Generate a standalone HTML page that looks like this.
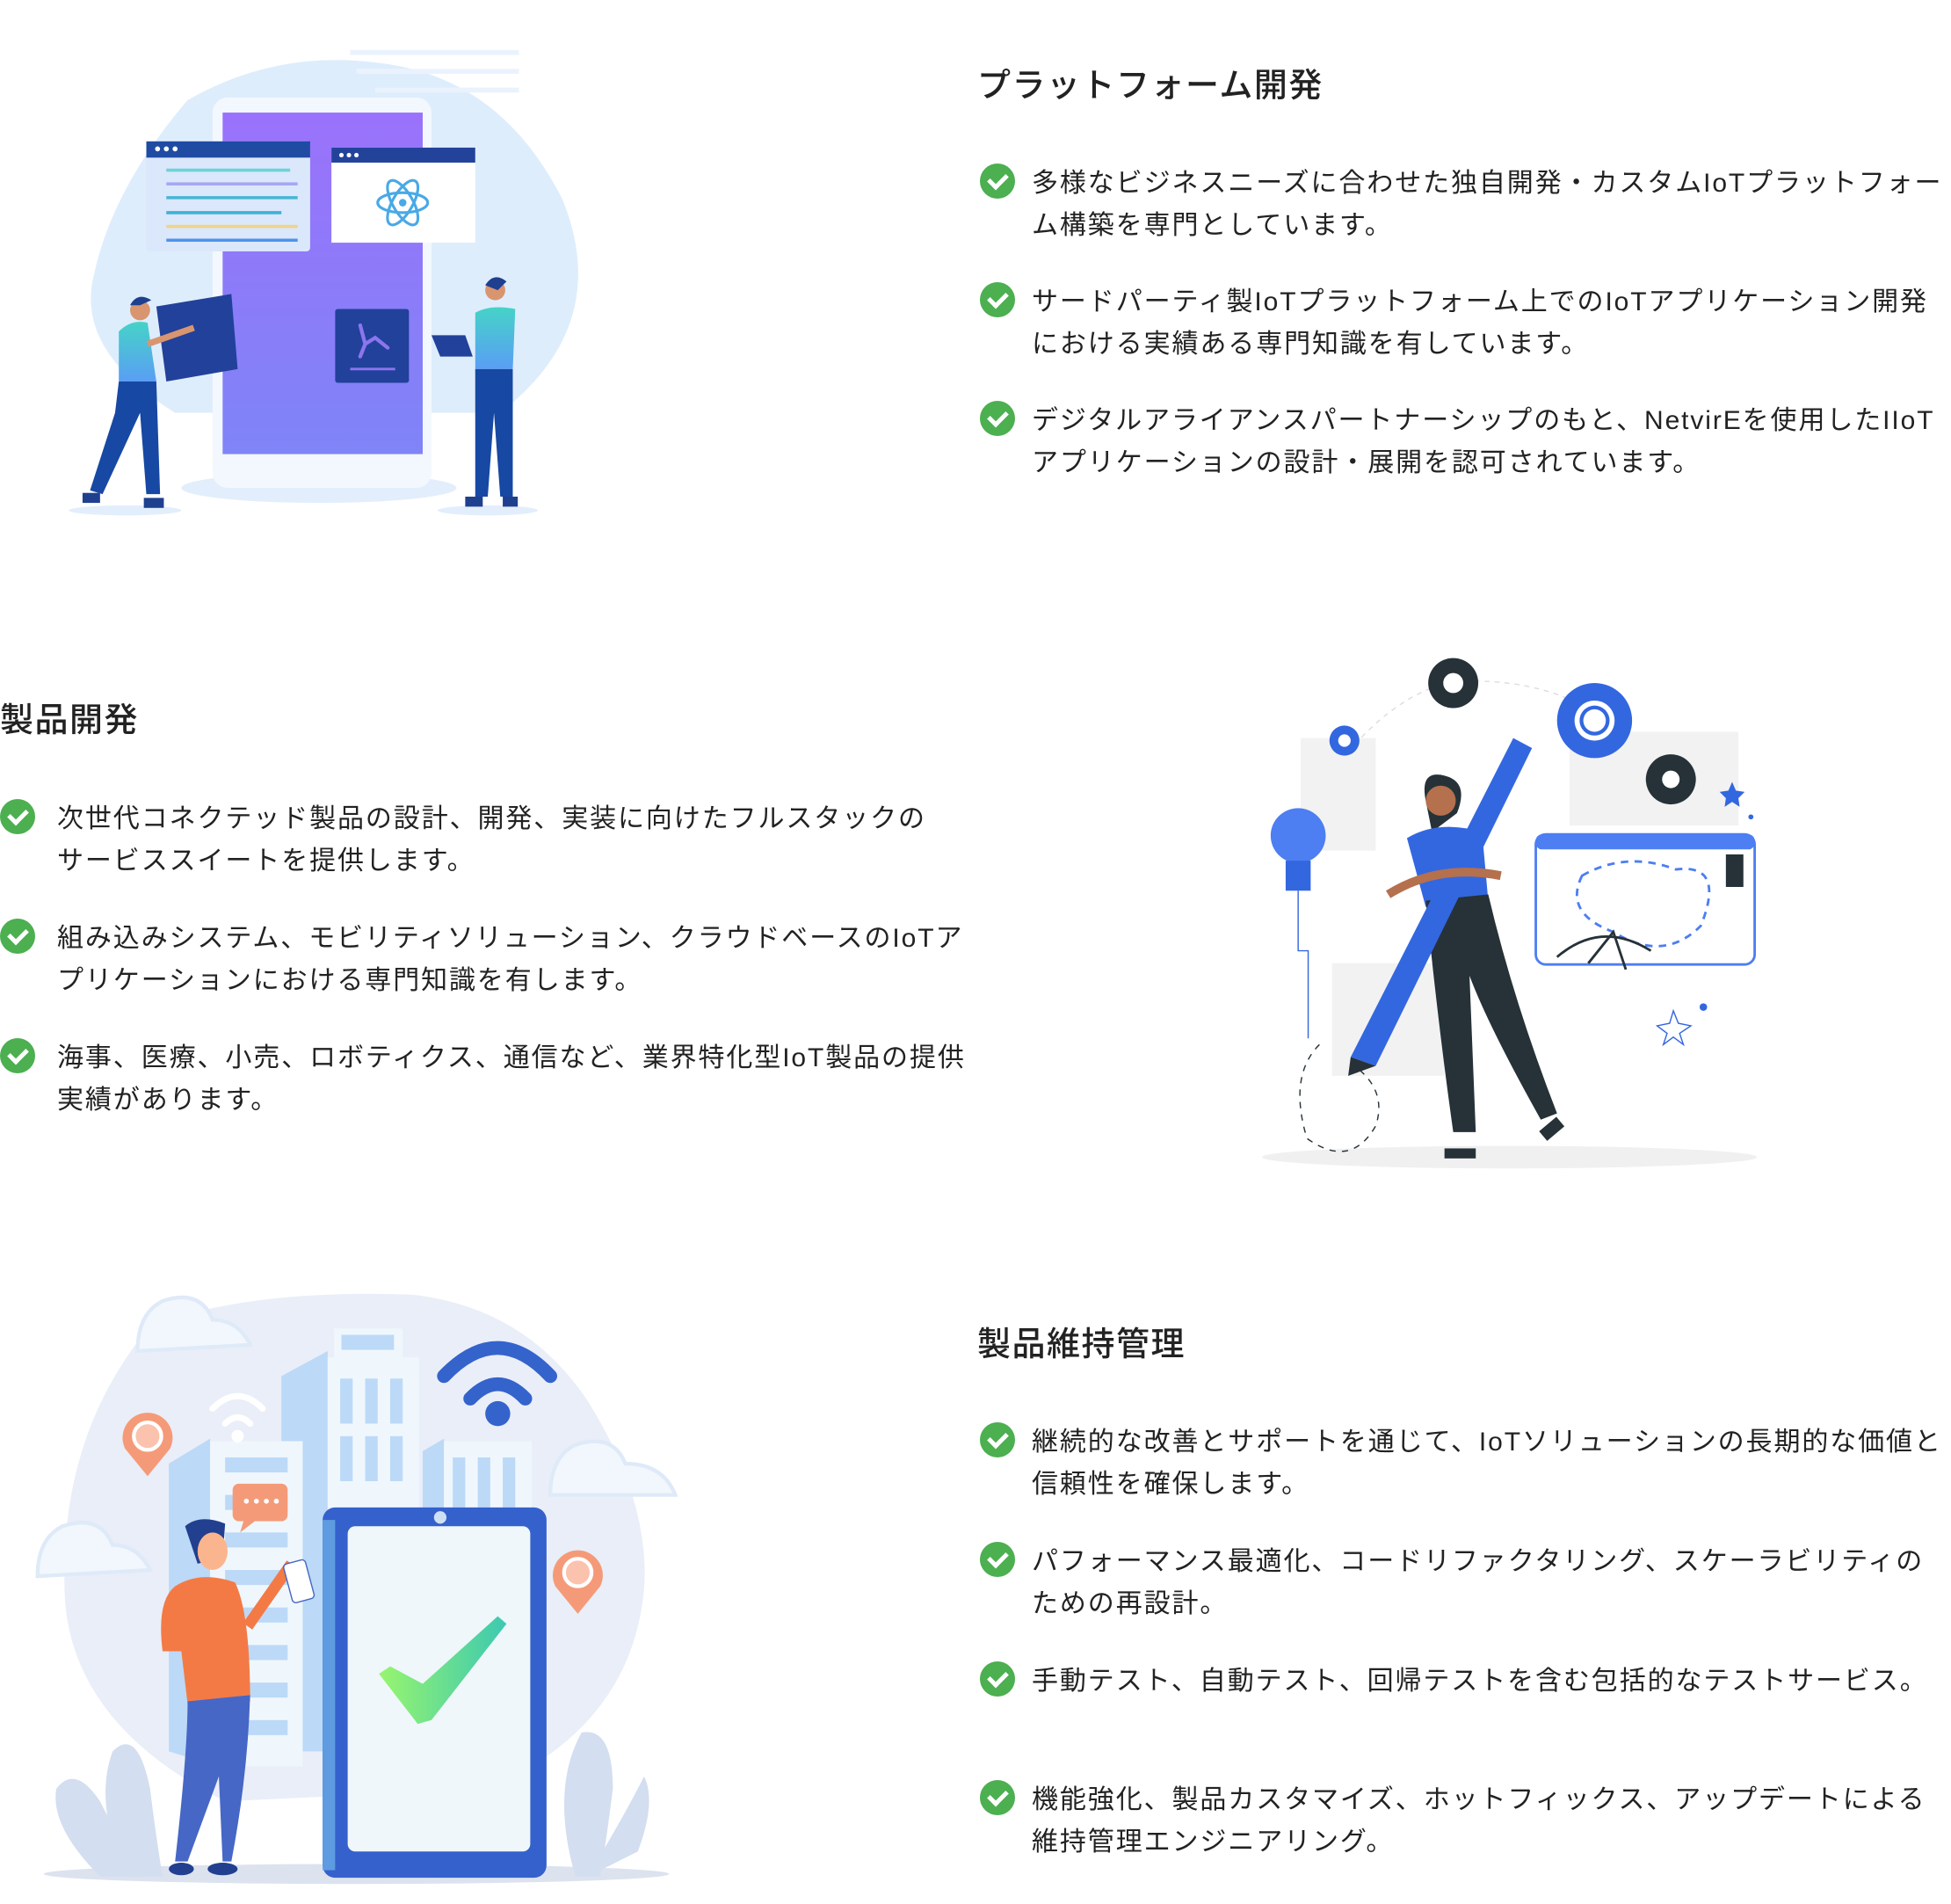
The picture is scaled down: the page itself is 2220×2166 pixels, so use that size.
<!DOCTYPE html>
<html><head><meta charset="utf-8"><style>
html,body{margin:0;padding:0;background:#fff;}
body{width:2220px;height:2166px;position:relative;overflow:hidden;font-family:"Liberation Sans","Noto Sans CJK JP",sans-serif;color:#222;}
svg.bg{position:absolute;left:0;top:0;}
.t{position:absolute;font-size:38px;line-height:48px;color:#222;font-weight:500;white-space:nowrap;letter-spacing:1.5px;}
.b{position:absolute;font-size:30px;line-height:48px;color:#222;letter-spacing:1.9px;}
.c{position:absolute;width:40px;height:40px;border-radius:50%;background:#4caf50;}
.c:after{content:"";position:absolute;width:16px;height:9px;border-left:5px solid #fff;border-bottom:5px solid #fff;transform:rotate(-45deg);transform-origin:center;top:11px;left:10px;}
</style></head><body>
<svg class="bg" width="2220" height="2166" viewBox="0 0 1560 1522" preserveAspectRatio="none">
<!-- Illustration 1 -->
<path d="M150 80 Q220 40 300 50 Q400 60 450 160 Q490 260 400 330 L140 330 Q60 280 75 220 Q90 150 150 80Z" fill="#deedfc"/>
<g fill="#eaf3fd"><rect x="280" y="40" width="135" height="4"/><rect x="285" y="55" width="130" height="4"/><rect x="300" y="70" width="115" height="4"/></g>
<ellipse cx="255" cy="390" rx="110" ry="12" fill="#e3eefc"/>
<rect x="170" y="78" width="175" height="312" rx="12" fill="#f3f8fe"/>
<defs><linearGradient id="pg" x1="0" y1="0" x2="0" y2="1"><stop offset="0" stop-color="#9a72fb"/><stop offset="1" stop-color="#7f84f7"/></linearGradient>
<linearGradient id="sh" x1="0" y1="0" x2="0" y2="1"><stop offset="0" stop-color="#45d3c7"/><stop offset="1" stop-color="#5a9ef5"/></linearGradient>
<linearGradient id="ck" x1="0" y1="0" x2="1" y2="0"><stop offset="0" stop-color="#98f56f"/><stop offset="1" stop-color="#3cc9b1"/></linearGradient></defs>
<rect x="178" y="90" width="160" height="273" fill="url(#pg)"/>
<rect x="117" y="113" width="131" height="88" rx="3" fill="#dbe7fb"/>
<rect x="117" y="113" width="131" height="13" fill="#1f4ba3"/>
<g fill="#fff"><circle cx="126" cy="119" r="2"/><circle cx="133" cy="119" r="2"/><circle cx="140" cy="119" r="2"/></g>
<g stroke-width="2.5"><line x1="133" y1="136" x2="232" y2="136" stroke="#6dd3d5"/><line x1="133" y1="147" x2="238" y2="147" stroke="#a7a8f3"/><line x1="133" y1="158" x2="238" y2="158" stroke="#46b6d4"/><line x1="133" y1="170" x2="225" y2="170" stroke="#3eb1d6"/><line x1="133" y1="181" x2="238" y2="181" stroke="#eed48a"/><line x1="133" y1="192" x2="238" y2="192" stroke="#4d93e8"/></g>
<rect x="265" y="118" width="115" height="76" fill="#fff"/>
<rect x="265" y="118" width="115" height="12" fill="#23439b"/>
<g fill="#fff"><circle cx="273" cy="124" r="1.8"/><circle cx="279" cy="124" r="1.8"/><circle cx="285" cy="124" r="1.8"/></g>
<g fill="none" stroke="#49a9e6" stroke-width="2.2"><ellipse cx="322" cy="162" rx="20" ry="8"/><ellipse cx="322" cy="162" rx="20" ry="8" transform="rotate(60 322 162)"/><ellipse cx="322" cy="162" rx="20" ry="8" transform="rotate(-60 322 162)"/></g>
<circle cx="322" cy="162" r="3" fill="#49a9e6"/>
<rect x="268" y="247" width="59" height="59" rx="2" fill="#22419a"/>
<line x1="280" y1="295" x2="316" y2="295" stroke="#8c75ee" stroke-width="2"/>
<g stroke="#8c75ee" stroke-width="3" fill="none" stroke-linecap="round"><path d="M288 260 L292 275 L300 270 L310 278 M292 275 L288 285"/></g>
<ellipse cx="100" cy="408" rx="45" ry="4" fill="#e3eefc"/>
<ellipse cx="390" cy="408" rx="40" ry="4" fill="#e3eefc"/>
<polygon points="125,245 185,235 190,295 133,305" fill="#22419a"/>
<path d="M95 265 Q105 255 118 258 L125 305 L95 305Z" fill="url(#sh)"/>
<circle cx="112" cy="248" r="8" fill="#d9956f"/>
<path d="M104 244 Q110 233 121 240 L112 244Z" fill="#1f3f8f"/>
<path d="M95 305 L125 305 L128 395 L117 395 L112 330 L82 395 L72 392 L92 330Z" fill="#1748a3"/>
<path d="M118 275 L155 262" stroke="#d9956f" stroke-width="5"/>
<rect x="66" y="394" width="14" height="8" fill="#1f3f8f"/><rect x="115" y="398" width="16" height="8" fill="#1f3f8f"/>
<circle cx="396" cy="232" r="8" fill="#d9956f"/>
<path d="M388 228 Q395 217 405 225 L398 232Z" fill="#1f3f8f"/>
<path d="M380 250 Q392 243 412 247 L410 295 L380 295Z" fill="url(#sh)"/>
<path d="M380 295 L410 295 L410 397 L400 397 L395 330 L390 397 L380 397Z" fill="#1748a3"/>
<polygon points="345,268 372,268 378,285 352,285" fill="#22419a"/>
<rect x="372" y="397" width="14" height="8" fill="#1f3f8f"/><rect x="402" y="397" width="12" height="8" fill="#1f3f8f"/>
<!-- Illustration 2 -->
<ellipse cx="1207" cy="925" rx="198" ry="9" fill="#f0f0f0"/>
<path d="M1050 640 Q1100 560 1160 545 Q1240 540 1290 580" fill="none" stroke="#ddd" stroke-dasharray="4 4"/>
<rect x="1040" y="590" width="60" height="90" fill="#f2f2f2"/>
<rect x="1255" y="585" width="135" height="75" fill="#f2f2f2"/>
<rect x="1065" y="770" width="90" height="90" fill="#f2f2f2"/>
<circle cx="1162" cy="546" r="20" fill="#263238"/><circle cx="1162" cy="546" r="9" fill="#fff" stroke="#263238" stroke-width="2"/>
<circle cx="1275" cy="576" r="30" fill="#3367e0"/><circle cx="1275" cy="576" r="16" fill="#fff"/><circle cx="1275" cy="576" r="12" fill="#3367e0"/><circle cx="1275" cy="576" r="9" fill="#fff"/>
<circle cx="1336" cy="623" r="20" fill="#263238"/><circle cx="1336" cy="623" r="7" fill="#fff"/>
<circle cx="1075" cy="592" r="12" fill="#3367e0"/><circle cx="1075" cy="592" r="5" fill="#fff"/>
<circle cx="1038" cy="668" r="22" fill="#4d7ef2"/><rect x="1028" y="688" width="20" height="24" fill="#3367e0"/>
<path d="M1038 712 L1038 760 L1046 760 L1046 830" stroke="#3367e0" fill="none"/>
<path d="M1055 835 Q1030 860 1045 910 Q1080 935 1100 900 Q1110 870 1080 850" fill="none" stroke="#263238" stroke-dasharray="5 5"/>
<rect x="1228" y="667" width="175" height="104" rx="8" fill="#fff" stroke="#4d7ef2" stroke-width="2"/>
<rect x="1228" y="667" width="175" height="12" rx="5" fill="#4d7ef2"/>
<path d="M1265 700 Q1300 680 1340 695 Q1380 690 1360 740 Q1330 770 1290 745 Q1250 730 1265 700Z" fill="none" stroke="#4d7ef2" stroke-dasharray="6 5" stroke-width="2"/>
<rect x="1380" y="683" width="14" height="26" fill="#263238"/>
<path d="M1245 765 Q1280 735 1320 760 M1270 770 L1290 745 L1300 775" fill="none" stroke="#263238" stroke-width="2"/>
<path d="M1338 808 L1342 818 L1352 820 L1343 826 L1346 835 L1338 829 L1330 835 L1333 826 L1325 820 L1335 818Z" fill="none" stroke="#3367e0"/>
<path d="M1140 640 Q1135 615 1155 620 Q1175 625 1165 650 L1145 665Z" fill="#263238"/>
<circle cx="1152" cy="640" r="12" fill="#b5704e"/>
<path d="M1125 670 Q1150 655 1185 665 L1190 720 L1140 725Z" fill="#3367e0"/>
<path d="M1140 720 L1190 715 Q1210 800 1245 890 L1232 895 Q1190 820 1175 780 L1180 905 L1162 905 Q1150 820 1140 720Z" fill="#263238"/>
<polygon points="1080,845 1210,590 1225,598 1100,852" fill="#3367e0"/>
<polygon points="1080,845 1100,852 1078,860" fill="#263238"/>
<path d="M1110 715 Q1150 690 1200 700" stroke="#b5704e" stroke-width="7" fill="none"/>
<rect x="1155" y="918" width="25" height="8" fill="#263238"/><rect x="1232" y="898" width="18" height="10" fill="#263238" transform="rotate(-40 1240 903)"/>
<g fill="#3367e0"><path d="M1385 625 l3 7 7 1 -5 5 1 7 -6 -4 -6 4 1 -7 -5 -5 7 -1z"/><circle cx="1400" cy="653" r="2"/><circle cx="1362" cy="805" r="3"/></g>
<!-- Illustration 3 -->
<path d="M120 1060 Q200 1030 330 1035 Q420 1045 470 1120 Q520 1200 515 1270 Q505 1380 390 1430 L180 1440 Q60 1380 52 1280 Q45 1150 120 1060Z" fill="#e9eef8"/>
<ellipse cx="285" cy="1498" rx="250" ry="8" fill="#dce3ef"/>
<g fill="#bcd9f7"><polygon points="135,1170 168,1150 168,1410 135,1400"/><polygon points="225,1100 262,1080 262,1400 225,1400"/><polygon points="338,1160 355,1150 355,1220 338,1220"/></g>
<rect x="168" y="1152" width="74" height="260" fill="#eff7fd"/>
<g fill="#bcd9f7"><rect x="180" y="1165" width="50" height="12"/><rect x="180" y="1195" width="50" height="12"/><rect x="180" y="1225" width="50" height="12"/><rect x="180" y="1255" width="50" height="12"/><rect x="180" y="1285" width="50" height="12"/><rect x="180" y="1315" width="50" height="12"/><rect x="180" y="1345" width="50" height="12"/><rect x="180" y="1375" width="50" height="12"/></g>
<rect x="262" y="1085" width="73" height="120" fill="#eff7fd"/>
<rect x="267" y="1062" width="55" height="25" fill="#eff7fd"/><rect x="273" y="1067" width="42" height="12" fill="#bcd9f7"/>
<g fill="#bcd9f7"><rect x="272" y="1102" width="10" height="36"/><rect x="292" y="1102" width="10" height="36"/><rect x="312" y="1102" width="10" height="36"/><rect x="272" y="1148" width="10" height="36"/><rect x="292" y="1148" width="10" height="36"/><rect x="312" y="1148" width="10" height="36"/></g>
<rect x="355" y="1152" width="70" height="55" fill="#eff7fd"/>
<g fill="#bcd9f7"><rect x="362" y="1165" width="10" height="40"/><rect x="382" y="1165" width="10" height="40"/><rect x="402" y="1165" width="10" height="40"/></g>
<g fill="#f1f7fd" stroke="#dfeaf8" stroke-width="3"><path d="M110 1080 Q110 1050 130 1040 Q160 1030 170 1055 Q190 1055 200 1075 L110 1080Z"/><path d="M30 1260 Q30 1230 50 1220 Q80 1210 90 1235 Q110 1235 120 1255 L30 1260Z"/><path d="M440 1195 Q440 1165 460 1155 Q490 1145 500 1170 Q530 1170 540 1195Z"/></g>
<g fill="none" stroke="#fff" stroke-width="5" stroke-linecap="round"><path d="M170 1126 Q190 1106 210 1126"/><path d="M180 1138 Q190 1128 200 1138"/></g><circle cx="190" cy="1148" r="5" fill="#fff"/>
<g fill="none" stroke="#3463cc" stroke-width="11" stroke-linecap="round"><path d="M355 1100 Q398 1055 440 1100"/><path d="M376 1118 Q398 1095 420 1118"/></g><circle cx="398" cy="1130" r="10" fill="#3463cc"/>
<g fill="#f59a78"><path d="M118 1180 L100 1158 A20 20 0 1 1 136 1158Z"/><path d="M462 1290 L444 1268 A20 20 0 1 1 480 1268Z"/></g>
<circle cx="118" cy="1148" r="11" fill="#fbc2ad" stroke="#fff" stroke-width="3"/><circle cx="462" cy="1257" r="11" fill="#fbc2ad" stroke="#fff" stroke-width="3"/>
<rect x="186" y="1186" width="44" height="30" rx="5" fill="#f59a78"/><polygon points="195,1215 205,1215 192,1225" fill="#f59a78"/>
<g fill="#fff"><circle cx="197" cy="1200" r="2"/><circle cx="205" cy="1200" r="2"/><circle cx="213" cy="1200" r="2"/><circle cx="221" cy="1200" r="2"/></g>
<g fill="#d3def0"><path d="M80 1500 Q40 1460 45 1430 Q60 1410 80 1440 Q95 1470 115 1500Z"/><path d="M100 1500 Q75 1440 90 1400 Q110 1380 120 1430 Q125 1470 130 1500Z"/><path d="M460 1500 Q440 1430 465 1385 Q490 1380 490 1430 Q485 1470 480 1500Z"/><path d="M470 1500 Q500 1450 515 1420 Q525 1440 510 1480Z"/></g>
<rect x="258" y="1205" width="179" height="296" rx="10" fill="#3461cc"/>
<rect x="258" y="1215" width="10" height="280" fill="#5e9be0"/>
<rect x="278" y="1220" width="146" height="260" rx="6" fill="#eff7fa"/>
<circle cx="352" cy="1213" r="5" fill="#cfe0f5"/>
<path d="M303 1338 L312 1332 L338 1346 L398 1292 L405 1298 L345 1375 L334 1378Z" fill="url(#ck)"/>
<path d="M148 1220 Q160 1210 180 1218 L178 1245 L158 1250Z" fill="#22408f"/>
<ellipse cx="170" cy="1240" rx="12" ry="15" fill="#fbb58e"/>
<path d="M140 1268 Q160 1255 188 1265 Q200 1290 200 1360 L150 1362 L145 1320 L130 1320 Q125 1280 140 1268Z" fill="#f47a45"/>
<path d="M198 1300 L233 1250" stroke="#f47a45" stroke-width="9"/>
<path d="M150 1360 L200 1355 Q198 1420 185 1488 L178 1488 L175 1420 L150 1488 L140 1488 Q150 1400 150 1360Z" fill="#4667c6"/>
<rect x="230" y="1248" width="18" height="32" rx="3" fill="#fff" stroke="#4667c6" transform="rotate(-15 239 1264)"/>
<ellipse cx="145" cy="1494" rx="10" ry="5" fill="#22408f"/><ellipse cx="178" cy="1494" rx="12" ry="5" fill="#22408f"/>
</svg>

<div class="t" style="left:1112px;top:74px;">プラットフォーム開発</div>
<div class="c" style="left:1115px;top:186px;"></div>
<div class="b" style="left:1174px;top:185px;width:1046px;">多様なビジネスニーズに合わせた独自開発・カスタムIoTプラットフォーム構築を専門としています。</div>
<div class="c" style="left:1115px;top:321px;"></div>
<div class="b" style="left:1174px;top:320px;width:1046px;">サードパーティ製IoTプラットフォーム上でのIoTアプリケーション開発における実績ある専門知識を有しています。</div>
<div class="c" style="left:1115px;top:456px;"></div>
<div class="b" style="left:1174px;top:455px;width:1046px;">デジタルアライアンスパートナーシップのもと、NetvirEを使用したIIoTアプリケーションの設計・展開を認可されています。</div>

<div class="t" style="left:0px;top:796px;">製品開発</div>
<div class="c" style="left:0px;top:909px;"></div>
<div class="b" style="left:65px;top:908px;width:1100px;">次世代コネクテッド製品の設計、開発、実装に向けたフルスタックの<br>サービススイートを提供します。</div>
<div class="c" style="left:0px;top:1045px;"></div>
<div class="b" style="left:65px;top:1044px;width:1100px;">組み込みシステム、モビリティソリューション、クラウドベースのIoTア<br>プリケーションにおける専門知識を有します。</div>
<div class="c" style="left:0px;top:1181px;"></div>
<div class="b" style="left:65px;top:1180px;width:1100px;">海事、医療、小売、ロボティクス、通信など、業界特化型IoT製品の提供<br>実績があります。</div>

<div class="t" style="left:1112px;top:1506px;">製品維持管理</div>
<div class="c" style="left:1115px;top:1618px;"></div>
<div class="b" style="left:1174px;top:1617px;width:1046px;">継続的な改善とサポートを通じて、IoTソリューションの長期的な価値と信頼性を確保します。</div>
<div class="c" style="left:1115px;top:1754px;"></div>
<div class="b" style="left:1174px;top:1753px;width:1046px;">パフォーマンス最適化、コードリファクタリング、スケーラビリティのための再設計。</div>
<div class="c" style="left:1115px;top:1890px;"></div>
<div class="b" style="left:1174px;top:1889px;width:1046px;">手動テスト、自動テスト、回帰テストを含む包括的なテストサービス。</div>
<div class="c" style="left:1115px;top:2025px;"></div>
<div class="b" style="left:1174px;top:2024px;width:1046px;">機能強化、製品カスタマイズ、ホットフィックス、アップデートによる維持管理エンジニアリング。</div>
</body></html>
